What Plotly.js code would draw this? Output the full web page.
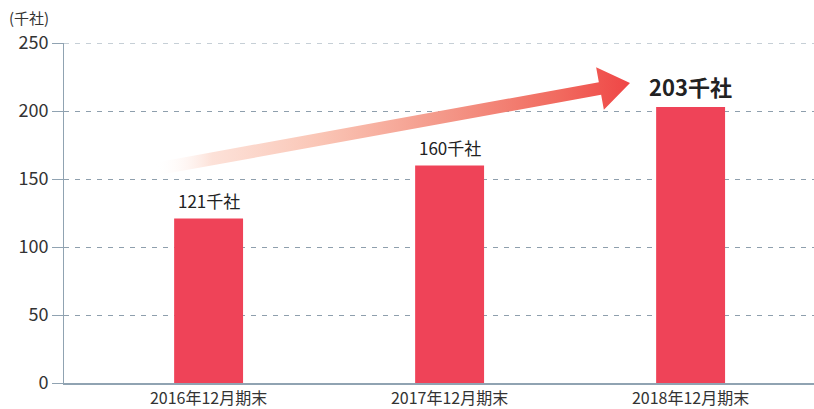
<!DOCTYPE html>
<html>
<head>
<meta charset="utf-8">
<script src="https://cdn.plot.ly/plotly-3.0.1.min.js"></script>
<style>html,body{margin:0;padding:0;background:#fff;}#chart{width:814px;height:409px;}</style>
</head>
<body>
<div id="chart"></div>
<script>
// ---- data ----
const categories = ["2016年12月期末", "2017年12月期末", "2018年12月期末"];
const values = [121, 160, 203];
const unitSuffix = "千社";
const unitTitle = "(千社)";
const yTicks = [0, 50, 100, 150, 200, 250];

// ---- layout constants ----
const W = 814, H = 409;
const mL = 64, mR = 0, mT = 43, mB = 26;
const xRange = [-0.6, 2.512];
const yRange = [0, 250];
const FONT = '"Noto Sans CJK JP", "Noto Sans", sans-serif';
const TXT = '#333333';
const BAR = '#ef4358';
const GRID = '#8e9fad';
const AXIS = '#90a3b2';
const DASH = '5px,6px';

// pixel -> data helpers (for decorative arrow)
const pw = W - mL - mR, ph = H - mT - mB;
const px2x = p => xRange[0] + (p - mL) / pw * (xRange[1] - xRange[0]);
const py2y = p => yRange[0] + (H - mB - p) / ph * (yRange[1] - yRange[0]);

// decorative growth arrow, geometry in pixels
const tail = [156, 169], base = [600, 88.5], tip = [630, 83];
const dx = base[0] - tail[0], dy = base[1] - tail[1];
const len = Math.hypot(dx, dy);
const n = [-dy / len, dx / len];
const w = 6.4, hw = 21.7;
const pt = (p, k) => [p[0] + n[0] * k, p[1] + n[1] * k];
const poly = [pt(tail, -w), pt(base, -w), pt(base, -hw), tip, pt(base, hw), pt(base, w), pt(tail, w), pt(tail, -w)];

const xIdx = categories.map((_, i) => i);

const bars = {
  type: 'bar',
  x: xIdx,
  y: values,
  width: 0.286,
  marker: {color: BAR},
  hoverinfo: 'skip'
};

const arrow = {
  type: 'scatter',
  mode: 'lines',
  x: poly.map(p => px2x(p[0])),
  y: poly.map(p => py2y(p[1])),
  fill: 'toself',
  line: {width: 0, color: 'rgba(0,0,0,0)'},
  fillcolor: '#f39a86',
  fillgradient: {
    type: 'horizontal',
    colorscale: [
      [0, 'rgba(255,255,255,0)'],
      [0.12, 'rgba(252,222,212,0.9)'],
      [0.35, '#fac5b5'],
      [0.6, '#f4998a'],
      [0.85, '#f16a5f'],
      [1, '#ef4646']
    ]
  },
  hoverinfo: 'skip',
  showlegend: false
};

const last = values.length - 1;
const annotations = values.map((v, i) => ({
  x: i, y: v, xref: 'x', yref: 'y',
  text: i === last ? `<b>${v}${unitSuffix}</b>` : `${v}${unitSuffix}`,
  showarrow: false,
  yanchor: 'bottom',
  yshift: 3,
  font: {family: FONT, size: i === last ? 22 : 17, color: '#222222'}
}));
annotations.push({
  xref: 'paper', yref: 'paper', x: -mL / pw + 7 / pw, y: 1 + 26 / ph,
  xanchor: 'left', yanchor: 'middle', showarrow: false,
  text: unitTitle, font: {family: FONT, size: 15, color: TXT}
});

// top gridline (Plotly drops the grid line lying on the plot edge)
const topTick = yTicks[yTicks.length - 1];
const shapes = [{
  type: 'line', xref: 'paper', yref: 'y',
  x0: 0, x1: 1, y0: topTick, y1: topTick,
  line: {color: GRID, width: 1, dash: DASH},
  layer: 'below'
}];

const layout = {
  width: W, height: H,
  margin: {l: mL, r: mR, t: mT, b: mB, pad: 0},
  paper_bgcolor: '#ffffff', plot_bgcolor: '#ffffff',
  showlegend: false,
  font: {family: FONT, color: TXT},
  xaxis: {
    type: 'linear',
    range: xRange,
    tickvals: xIdx,
    ticktext: categories,
    ticks: '',
    showgrid: false,
    zeroline: false,
    showline: true,
    linecolor: AXIS,
    linewidth: 2,
    tickfont: {family: FONT, size: 16, color: TXT},
    fixedrange: true
  },
  yaxis: {
    range: yRange,
    tickvals: yTicks,
    ticks: 'outside',
    ticklen: 11,
    tickwidth: 1,
    tickcolor: AXIS,
    showline: true,
    linecolor: AXIS,
    linewidth: 1,
    showgrid: true,
    gridcolor: GRID,
    gridwidth: 1,
    griddash: DASH,
    zeroline: false,
    tickfont: {family: FONT, size: 18, color: TXT},
    fixedrange: true
  },
  shapes: shapes,
  annotations: annotations
};

Plotly.newPlot('chart', [arrow, bars], layout, {displayModeBar: false, staticPlot: true});
</script>
</body>
</html>
